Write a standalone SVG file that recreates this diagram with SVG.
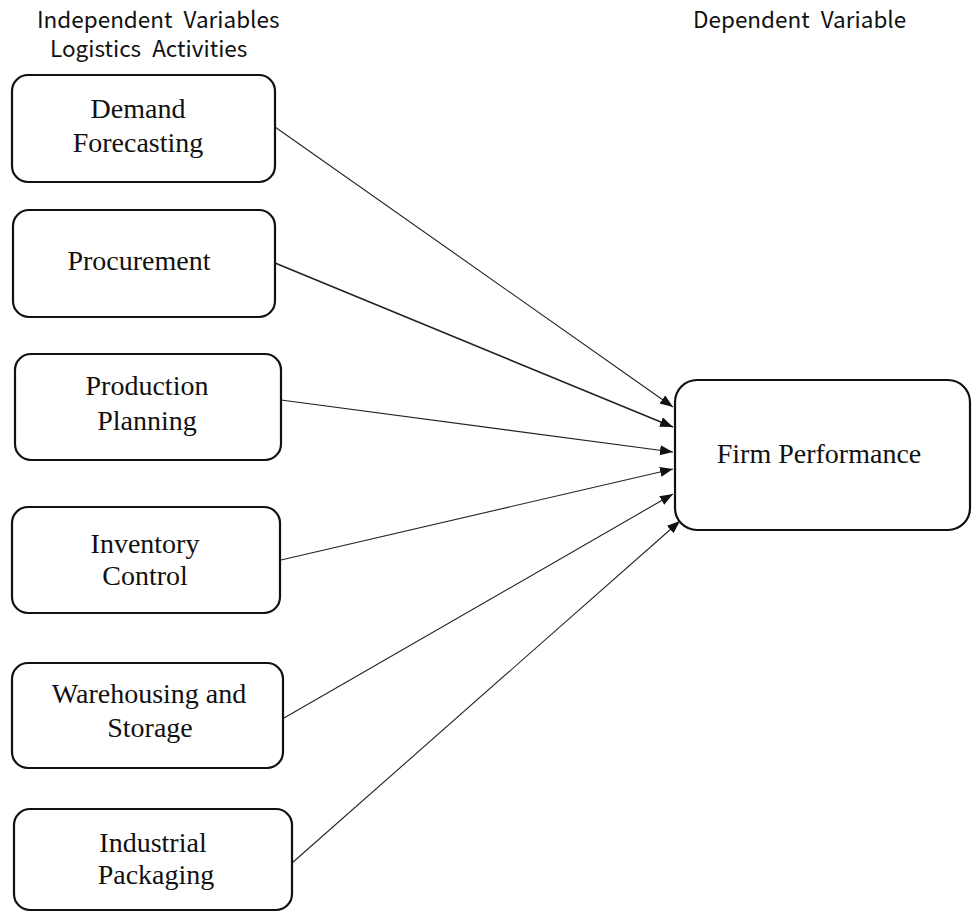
<svg xmlns="http://www.w3.org/2000/svg" width="972" height="912" viewBox="0 0 972 912">
<defs>
<style>
.box{fill:#fff;stroke:#111;stroke-width:2.2}
.lbl{font-family:"Liberation Serif","Times New Roman",serif;font-size:28px;fill:#111;text-anchor:middle}
.hdr{font-family:"Noto Sans CJK KR","Open Sans",sans-serif;font-size:22.5px;fill:#111;word-spacing:6px}
.con{stroke:#222;stroke-width:1.1;fill:none;marker-end:url(#arr)}
</style>
<marker id="arr" markerUnits="userSpaceOnUse" markerWidth="14" markerHeight="11" refX="13" refY="5" orient="auto">
<path d="M0,0 L13,5 L0,10 z" fill="#111"/>
</marker>
</defs>
<rect width="972" height="912" fill="#fff"/>
<g id="headers">
<text class="hdr" x="37" y="28">Independent Variables</text>
<text class="hdr" x="50" y="57">Logistics Activities</text>
<text class="hdr" x="693" y="28">Dependent Variable</text>
</g>
<g id="connectors">
<line class="con" x1="275" y1="127" x2="673" y2="407"/>
<line class="con" x1="275" y1="263" x2="673" y2="427" style="stroke-width:1.6"/>
<line class="con" x1="281" y1="400" x2="673" y2="452"/>
<line class="con" x1="281" y1="560" x2="673" y2="469"/>
<line class="con" x1="284" y1="718" x2="673" y2="494"/>
<line class="con" x1="292" y1="863" x2="680" y2="521"/>
</g>
<g id="n1">
<rect class="box" x="12" y="75" width="263" height="107" rx="16"/>
<text class="lbl" x="138" y="118">Demand</text>
<text class="lbl" x="138" y="152">Forecasting</text>
</g>
<g id="n2">
<rect class="box" x="13" y="210" width="262" height="107" rx="16"/>
<text class="lbl" x="139" y="270">Procurement</text>
</g>
<g id="n3">
<rect class="box" x="15" y="354" width="266" height="106" rx="16"/>
<text class="lbl" x="147" y="395">Production</text>
<text class="lbl" x="147" y="430">Planning</text>
</g>
<g id="n4">
<rect class="box" x="12" y="507" width="268" height="106" rx="16"/>
<text class="lbl" x="145" y="553">Inventory</text>
<text class="lbl" x="145" y="585">Control</text>
</g>
<g id="n5">
<rect class="box" x="12" y="663" width="271" height="105" rx="16"/>
<text class="lbl" x="149" y="703">Warehousing and</text>
<text class="lbl" x="150" y="737">Storage</text>
</g>
<g id="n6">
<rect class="box" x="14" y="809" width="278" height="101" rx="16"/>
<text class="lbl" x="153" y="852">Industrial</text>
<text class="lbl" x="156" y="884">Packaging</text>
</g>
<g id="n7">
<rect class="box" x="675" y="380" width="295" height="150" rx="22"/>
<text class="lbl" x="819" y="463">Firm Performance</text>
</g>
</svg>
